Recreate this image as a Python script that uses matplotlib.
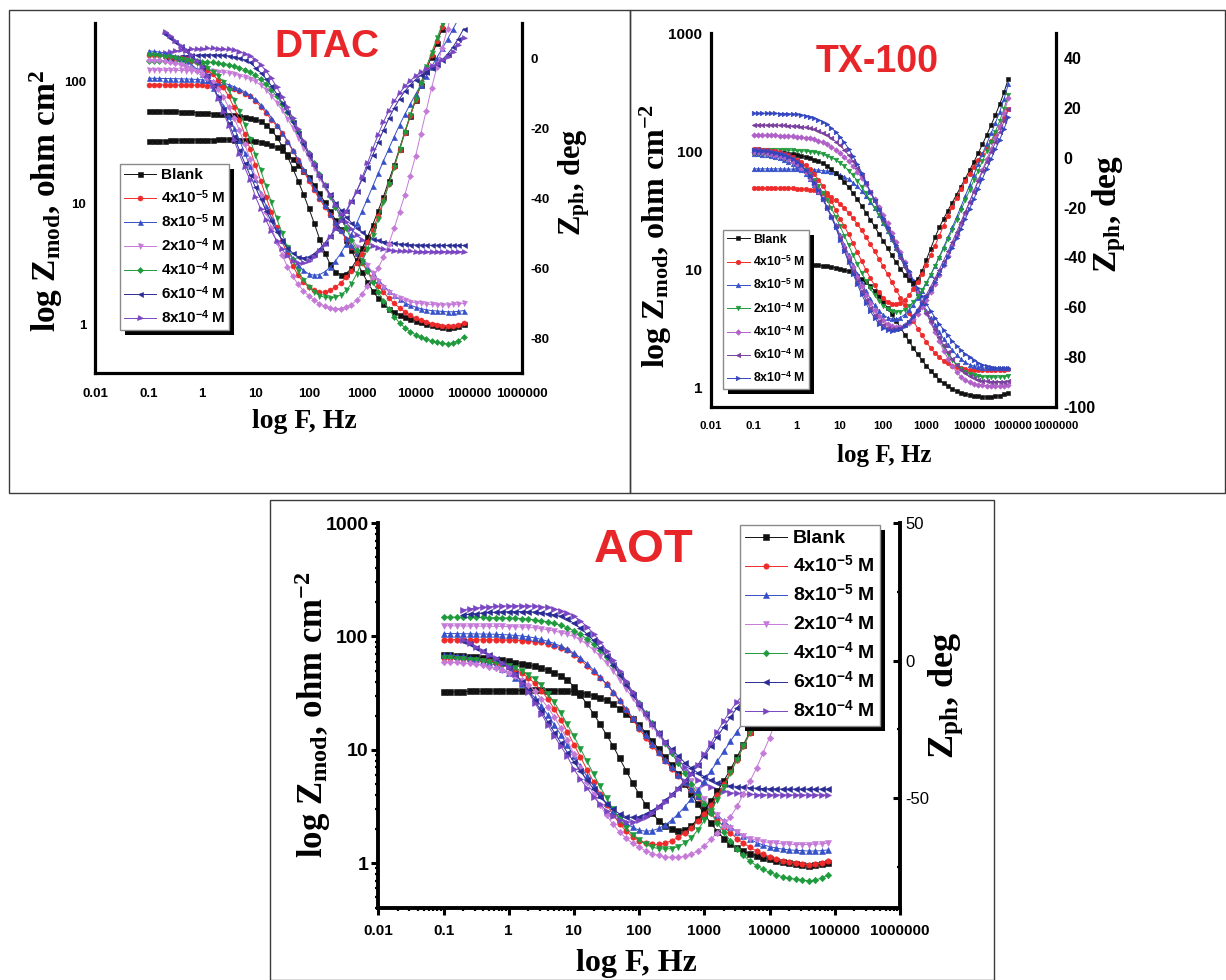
import matplotlib
matplotlib.use('Agg')
import matplotlib.pyplot as plt
from matplotlib.patches import Rectangle
from matplotlib.transforms import IdentityTransform
from matplotlib.ticker import NullLocator, MultipleLocator, LogLocator, NullFormatter

plt.rcParams['mathtext.fontset'] = 'custom'
plt.rcParams['mathtext.rm'] = 'Liberation Serif:bold'
plt.rcParams['mathtext.it'] = 'Liberation Serif:bold:italic'
plt.rcParams['mathtext.bf'] = 'Liberation Serif:bold'
plt.rcParams['mathtext.sf'] = 'Liberation Sans:bold'

nan = float('nan')

# ---------------- frequency grid (10 points per decade, 0.1 Hz .. ~80 kHz) ----------------
LOG_F = [i / 10 for i in range(-10, 50)]
FREQ = [10 ** v for v in LOG_F]

LEGEND_LABELS = ['Blank', '4x10$^{\\mathsf{-5}}$ M', '8x10$^{\\mathsf{-5}}$ M',
                 '2x10$^{\\mathsf{-4}}$ M', '4x10$^{\\mathsf{-4}}$ M',
                 '6x10$^{\\mathsf{-4}}$ M', '8x10$^{\\mathsf{-4}}$ M']
X_TICKS = [0.01, 0.1, 1, 10, 100, 1000, 10000, 100000, 1000000]
X_TICK_LABELS = ['0.01', '0.1', '1', '10', '100', '1000', '10000', '100000', '1000000']

# ---------------- DTAC / AOT data : |Z| (ohm cm2) ----------------
aot_mag_blank = [32.5, 32.3, 32.4, 32.6, 32.7, 32.8, 32.9, 33.0, 33.0, 33.1,
                 33.2, 33.3, 33.3, 33.4, 33.4, 33.4, 33.3, 33.2, 33.0, 32.7,
                 32.3, 31.8, 31.0, 30.0, 28.7, 27.3, 25.3, 23.0, 20.5, 18.5,
                 16.5, 14.2, 12.0, 10.2, 8.6, 7.3, 6.1, 5.0, 4.1, 3.3,
                 2.7, 2.25, 1.9, 1.65, 1.48, 1.36, 1.27, 1.21, 1.16, 1.12,
                 1.08, 1.05, 1.02, 1.0, 0.98, 0.96, 0.95, 0.96, 0.98, 1.01]
aot_mag_4e5 = [93.7, 93.7, 93.6, 93.6, 93.5, 93.5, 93.4, 93.3, 93.2, 93.0,
               92.8, 92.4, 91.8, 91.0, 90.0, 88.7, 86.5, 83.0, 79.5, 75.5,
               69.0, 62.0, 55.0, 48.5, 43.0, 38.0, 32.0, 27.0, 22.5, 18.5,
               15.3, 12.8, 10.8, 9.3, 8.0, 6.8, 5.9, 5.1, 4.4, 3.8,
               3.2, 2.75, 2.4, 2.1, 1.85, 1.65, 1.5, 1.38, 1.28, 1.2,
               1.14, 1.09, 1.05, 1.02, 1.0, 0.98, 0.97, 0.98, 1.0, 1.04]
aot_mag_8e5 = [106, 106, 105.8, 105.6, 105.4, 105.2, 105, 104.7, 104.3, 103.8,
               103, 102, 100.8, 99.2, 97, 94, 90.5, 86.5, 82, 77,
               71, 64.5, 57.5, 50.5, 44, 38, 32.5, 27.5, 23, 19.2,
               16, 13.4, 11.3, 9.6, 8.2, 7.0, 6.0, 5.2, 4.5, 3.9,
               3.4, 3.0, 2.65, 2.35, 2.1, 1.9, 1.75, 1.62, 1.52, 1.45,
               1.4, 1.36, 1.33, 1.31, 1.3, 1.29, 1.28, 1.28, 1.29, 1.31]
aot_mag_2e4 = [124, 124, 123.8, 123.6, 123.4, 123.2, 123, 122.8, 122.6, 122.4,
               122, 121.6, 121, 120, 118.8, 117, 114.5, 111.5, 108, 104,
               100, 93, 85, 76, 67, 58, 49.5, 41.5, 34.5, 28.5,
               23.5, 19.5, 16.2, 13.5, 11.2, 9.3, 7.7, 6.4, 5.3, 4.4,
               3.7, 3.1, 2.65, 2.3, 2.05, 1.87, 1.74, 1.65, 1.59, 1.55,
               1.52, 1.5, 1.48, 1.47, 1.46, 1.46, 1.46, 1.47, 1.48, 1.5]
aot_mag_4e4 = [148, 148, 147.8, 147.6, 147.4, 147.2, 147, 146.6, 146.2, 145.8,
               145.2, 144.4, 143.4, 142, 140, 137.5, 134, 130, 125, 119,
               112, 104, 95, 85.5, 75.5, 65.5, 56, 47, 39, 32,
               26, 21.2, 17.2, 14, 11.4, 9.3, 7.6, 6.2, 5.0, 4.1,
               3.35, 2.75, 2.25, 1.87, 1.57, 1.34, 1.17, 1.04, 0.95, 0.88,
               0.83, 0.79, 0.76, 0.74, 0.72, 0.71, 0.70, 0.71, 0.74, 0.79]
aot_mag_6e4 = [nan, nan, nan, 155, 157, 159, 161, 162.5, 163.5, 164.5,
               165, 165.5, 165.5, 165, 164, 162, 159, 155, 150, 143,
               130, 118, 105, 92, 79, 67, 56, 46, 37.5, 30.5,
               25, 20.5, 16.8, 14, 11.8, 10.1, 8.8, 7.7, 6.9, 6.25,
               5.8, 5.4, 5.12, 4.95, 4.83, 4.74, 4.67, 4.62, 4.58, 4.55,
               4.53, 4.52, 4.51, 4.5, 4.5, 4.5, 4.5, 4.5, 4.5, 4.5]
aot_mag_8e4 = [nan, nan, nan, 172, 175, 178, 180.5, 182.5, 184, 185,
               186, 186.5, 186.5, 186, 185, 183, 180, 175.5, 169, 160.5,
               150, 137, 122, 106, 90, 75, 61.5, 50, 40.5, 32.5,
               26, 21, 17, 14, 11.6, 9.7, 8.2, 7.0, 6.1, 5.45,
               5.0, 4.68, 4.46, 4.3, 4.19, 4.12, 4.07, 4.04, 4.02, 4.01,
               4.0, 4.0, 4.0, 4.0, 4.0, 4.0, 4.0, 4.0, 4.0, 4.0]

# ---------------- DTAC / AOT data : phase (deg) ----------------
aot_ph_blank = [2.0, 1.9, 1.8, 1.6, 1.4, 1.2, 1.0, 0.7, 0.4, 0.1,
                -0.3, -0.7, -1.1, -1.6, -2.1, -2.7, -3.5, -4.4, -5.5, -7.0,
                -9.5, -12.5, -15.8, -19.3, -23.0, -27.0, -31.0, -35.5, -40.0, -44.5,
                -48.5, -52.3, -55.5, -58.1, -60.0, -61.3, -61.9, -61.5, -60.0, -57.5,
                -54.3, -51.0, -47.5, -43.6, -39.5, -35.0, -30.5, -25.8, -21.0, -16.5,
                -12.0, -7.5, -3.5, 0.5, 4.5, 8.5, 12.5, 16.5, 20.5, 24.5]
dtac_ph_blank = [-15.0, -15.1, -15.0, -15.1, -15.2, -15.2, -15.3, -15.3, -15.4, -15.5,
                 -15.6, -15.7, -15.8, -15.9, -16.0, -16.1, -16.3, -16.5, -16.7, -17.0,
                 -17.4, -18.0, -19.0, -20.5, -22.5, -25.0, -28.0, -31.4, -35.0, -38.8,
                 -42.8, -47.0, -51.5, -55.5, -58.8, -61.0, -61.8, -61.5, -60.0, -57.5,
                 -54.3, -51.0, -47.5, -43.6, -39.5, -35.0, -30.5, -25.8, -21.0, -16.5,
                 -12.0, -7.5, -3.5, 0.5, 4.5, 8.5, 12.5, 16.5, 20.5, 24.5]
aot_ph_4e5 = [1.0, 0.9, 0.8, 0.6, 0.4, 0.2, 0.0, -0.3, -0.7, -1.2,
              -2.3, -3.3, -4.6, -6.2, -8.3, -10.9, -14.0, -17.6, -21.6, -25.9,
              -30.5, -35.0, -39.6, -44.0, -48.3, -52.3, -56.0, -59.3, -62.0, -64.0,
              -65.4, -66.3, -66.8, -66.8, -66.3, -65.4, -64.2, -62.6, -60.7, -58.4,
              -55.8, -52.6, -49.0, -45.0, -40.6, -36.0, -31.2, -26.3, -21.4, -16.6,
              -12.0, -7.5, -3.2, 1.0, 5.0, 9.0, 13.0, 17.0, 21.0, 25.0]
aot_ph_8e5 = [2.1, 2.0, 1.8, 1.5, 1.1, 0.6, 0.0, -0.8, -1.8, -3.0,
              -4.5, -6.3, -8.4, -10.8, -13.5, -16.5, -19.8, -23.3, -27.0, -30.8,
              -34.6, -38.4, -42.1, -45.6, -48.9, -51.9, -54.6, -57.0, -59.0, -60.6,
              -61.6, -62.0, -61.8, -61.0, -59.7, -57.9, -55.7, -53.1, -50.2, -47.0,
              -43.6, -40.1, -36.5, -32.9, -29.3, -25.8, -22.4, -19.1, -16.0, -13.1,
              -10.3, -7.6, -5.0, -2.4, 0.2, 2.8, 5.5, 8.3, 11.2, 14.2]
aot_ph_2e4 = [0.9, 0.8, 0.7, 0.5, 0.3, 0.1, -0.2, -0.5, -0.9, -1.4,
              -2.0, -2.8, -3.8, -5.1, -6.7, -9.0, -12.0, -15.2, -19.0, -23.2,
              -27.5, -32.0, -36.6, -41.2, -45.7, -50.0, -54.0, -57.6, -60.8, -63.3,
              -65.3, -66.8, -67.8, -68.3, -68.5, -68.3, -67.6, -66.3, -64.4, -61.5,
              -58.0, -54.5, -50.5, -46.0, -41.0, -36.0, -31.0, -26.0, -21.0, -16.2,
              -11.5, -7.0, -2.6, 1.6, 5.7, 9.7, 13.7, 17.7, 21.7, 25.7]
aot_ph_4e4 = [-0.4, -0.5, -0.6, -0.8, -1.0, -1.3, -1.7, -2.2, -2.8, -3.5,
              -4.4, -5.5, -6.9, -8.7, -11.0, -14.0, -17.0, -20.5, -24.5, -28.8,
              -34.0, -39.0, -44.0, -48.5, -52.5, -56.2, -59.5, -62.3, -64.6, -66.4,
              -67.9, -69.1, -70.1, -70.8, -71.3, -71.5, -71.5, -71.1, -70.4, -69.1,
              -67.3, -65.0, -62.5, -60.0, -56.8, -53.0, -48.5, -43.8, -39.0, -33.5,
              -28.0, -21.5, -15.0, -8.5, -2.5, 3.0, 8.5, 14.0, 19.0, 24.0]
aot_ph_6e4 = [nan, nan, nan, 7.0, 5.9, 4.7, 3.4, 2.0, 0.6, -0.9,
              -2.6, -4.9, -7.7, -11.0, -14.6, -18.4, -22.3, -26.2, -29.9, -33.4,
              -36.8, -40.2, -43.5, -46.6, -49.5, -52.0, -54.1, -55.7, -56.7, -57.0,
              -56.7, -55.8, -54.5, -52.8, -50.8, -48.6, -46.2, -43.6, -40.8, -37.8,
              -34.6, -31.2, -27.6, -24.0, -20.5, -17.2, -14.2, -11.6, -9.4, -7.6,
              -6.1, -4.9, -3.8, -2.8, -1.7, -0.4, 1.2, 3.2, 5.6, 8.4]
aot_ph_8e4 = [nan, nan, nan, 7.6, 6.3, 5.0, 3.6, 2.2, 0.8, -0.7,
              -2.5, -5.0, -8.0, -11.5, -15.3, -19.3, -23.4, -27.4, -31.2, -34.8,
              -39.5, -43.0, -46.3, -49.4, -52.2, -54.6, -56.5, -57.9, -58.6, -58.6,
              -58.0, -56.8, -55.2, -53.3, -51.2, -48.9, -46.5, -43.9, -41.1, -38.1,
              -34.0, -30.0, -25.8, -21.8, -18.2, -15.0, -12.3, -10.0, -8.0, -6.4,
              -5.1, -4.0, -3.1, -2.3, -1.5, -0.6, 0.5, 1.9, 3.7, 5.8]

# ---------------- TX-100 data : |Z| (ohm cm2) ----------------
tx_mag_blank = [10.9, 10.9, 10.9, 10.9, 10.9, 10.9, 10.9, 10.9, 10.9, 10.9,
                10.9, 10.9, 10.9, 10.85, 10.8, 10.8, 10.7, 10.6, 10.5, 10.35,
                10.15, 9.9, 9.6, 9.25, 8.8, 8.3, 7.75, 7.15, 6.55, 5.9,
                5.3, 4.7, 4.15, 3.65, 3.2, 2.8, 2.45, 2.15, 1.9, 1.7,
                1.52, 1.38, 1.26, 1.16, 1.08, 1.02, 0.97, 0.93, 0.9, 0.88,
                0.86, 0.85, 0.84, 0.83, 0.83, 0.83, 0.84, 0.85, 0.87, 0.89]
tx_mag_4e5 = [48.6, 48.6, 48.6, 48.6, 48.6, 48.6, 48.6, 48.5, 48.5, 48.4,
              48.3, 48.1, 47.8, 47.3, 46.6, 45.6, 44.3, 42.6, 40.6, 38.3,
              35.7, 32.9, 30.0, 27.1, 24.2, 21.4, 18.8, 16.4, 14.2, 12.3,
              10.6, 9.1, 7.8, 6.7, 5.75, 4.95, 4.25, 3.65, 3.15, 2.75,
              2.42, 2.15, 1.95, 1.8, 1.68, 1.6, 1.53, 1.48, 1.45, 1.43,
              1.41, 1.4, 1.39, 1.39, 1.39, 1.39, 1.39, 1.4, 1.41, 1.42]
tx_mag_8e5 = [71, 71, 71, 71, 71, 71, 70.9, 70.8, 70.7, 70.6,
              70.5, 70.4, 70.2, 70.0, 69.7, 69.3, 68.7, 67.9, 66.8, 65.3,
              63.3, 60.8, 57.8, 54.3, 50.4, 46.2, 41.8, 37.4, 33.0, 28.8,
              24.9, 21.3, 18.1, 15.3, 12.9, 10.8, 9.0, 7.5, 6.3, 5.3,
              4.45, 3.85, 3.35, 2.93, 2.58, 2.3, 2.07, 1.88, 1.74, 1.63,
              1.56, 1.51, 1.48, 1.46, 1.45, 1.45, 1.45, 1.45, 1.46, 1.47]
tx_mag_2e4 = [103, 103, 103, 103, 103, 102.8, 102.6, 102.4, 102.2, 101.9,
              101.5, 101.0, 100.3, 99.4, 98.2, 96.6, 94.5, 91.8, 88.5, 84.5,
              79.8, 74.5, 68.7, 62.5, 56.2, 50.0, 44.0, 38.5, 33.4, 28.8,
              24.7, 21.0, 17.8, 15.0, 12.6, 10.5, 8.8, 7.3, 6.1, 5.1,
              4.25, 3.55, 3.0, 2.55, 2.2, 1.92, 1.7, 1.54, 1.42, 1.34,
              1.29, 1.26, 1.24, 1.23, 1.22, 1.22, 1.22, 1.22, 1.23, 1.25]
tx_mag_4e4 = [137, 137, 137, 137, 137, 136.5, 136, 135.5, 135, 134,
              133, 132, 130.5, 128.5, 126, 123, 119, 114.5, 109, 103,
              96.5, 89.5, 82, 74.5, 67, 59.5, 52.5, 45.5, 39.5, 34,
              29, 24.5, 20.5, 17, 14, 11.5, 9.5, 7.8, 6.4, 5.25,
              4.3, 3.55, 2.95, 2.45, 2.05, 1.75, 1.52, 1.35, 1.23, 1.15,
              1.1, 1.07, 1.05, 1.04, 1.03, 1.02, 1.02, 1.02, 1.03, 1.05]
tx_mag_6e4 = [167, 167, 167, 167, 167, 166.5, 166, 165.5, 165, 164,
              163, 161.5, 159.5, 157, 153.5, 149, 143.5, 137, 129.5, 121,
              112, 102.5, 92.5, 82.5, 72.5, 63, 54, 45.5, 38, 31.7,
              26.3, 21.8, 18.1, 15.0, 12.5, 10.4, 8.7, 7.3, 6.1, 5.1,
              4.3, 3.65, 3.1, 2.65, 2.28, 1.98, 1.74, 1.55, 1.41, 1.31,
              1.24, 1.19, 1.16, 1.14, 1.13, 1.12, 1.12, 1.12, 1.12, 1.13]
tx_mag_8e4 = [210, 210, 210, 210, 210, 209.5, 209, 208.5, 208, 207,
              206, 204, 201, 197, 192, 186, 178, 169, 158, 146,
              133, 119, 105, 91, 78, 66, 55, 45.5, 38.5, 32.5,
              27.3, 22.9, 19.2, 16.1, 13.5, 11.4, 9.6, 8.1, 6.9, 5.9,
              5.1, 4.45, 3.9, 3.45, 3.07, 2.75, 2.48, 2.26, 2.07, 1.92,
              1.8, 1.7, 1.62, 1.56, 1.52, 1.49, 1.47, 1.46, 1.45, 1.45]

# ---------------- TX-100 data : phase (deg) ----------------
tx_ph_blank = [2.3, 2.3, 2.2, 2.2, 2.1, 2.0, 1.9, 1.8, 1.6, 1.4,
               1.1, 0.8, 0.4, -0.1, -0.7, -1.4, -2.3, -3.4, -4.7, -6.2,
               -7.9, -9.8, -11.9, -14.2, -16.7, -19.3, -22.0, -24.8, -27.6, -30.5,
               -33.4, -36.3, -39.2, -42.0, -44.6, -47.0, -49.0, -50.3, -48.8, -45.5,
               -41.0, -36.5, -32.0, -28.0, -24.5, -21.2, -18.0, -14.8, -11.6, -8.4,
               -5.1, -1.7, 1.8, 5.4, 9.2, 13.1, 17.2, 21.5, 26.3, 31.8]
tx_ph_4e5 = [3.5, 3.4, 3.3, 3.1, 2.9, 2.6, 2.2, 1.7, 1.1, 0.3,
             -0.7, -1.8, -3.1, -4.7, -6.6, -8.8, -11.3, -14.1, -17.4, -21.0,
             -24.5, -27.5, -30.8, -34.3, -37.9, -41.5, -45.0, -48.3, -51.3, -54.0,
             -56.2, -57.8, -58.6, -58.8, -58.3, -57.1, -55.2, -52.8, -49.9, -46.6,
             -43.0, -39.2, -35.3, -31.3, -27.3, -23.4, -19.6, -16.0, -12.6, -9.4,
             -6.4, -3.6, -1.0, 1.5, 4.0, 6.6, 9.4, 12.4, 15.8, 19.7]
tx_ph_8e5 = [1.5, 1.4, 1.2, 1.0, 0.7, 0.3, -0.2, -0.8, -1.5, -2.4,
             -3.5, -4.9, -6.6, -8.6, -10.9, -13.6, -16.6, -19.9, -23.4, -27.1,
             -31.0, -35.0, -39.0, -42.9, -46.7, -50.3, -53.6, -56.6, -59.2, -61.4,
             -63.1, -64.2, -64.8, -64.8, -64.2, -63.0, -61.3, -59.1, -56.5, -53.6,
             -50.4, -47.0, -43.4, -39.7, -35.9, -32.0, -28.0, -23.9, -19.7, -15.4,
             -11.1, -6.8, -2.6, 1.6, 5.7, 9.8, 14.0, 18.5, 23.6, 29.6]
tx_ph_2e4 = [2.0, 1.9, 1.8, 1.6, 1.3, 1.0, 0.6, 0.1, -0.5, -1.3,
             -2.3, -3.5, -5.0, -6.8, -8.9, -11.3, -14.0, -17.0, -20.3, -23.8,
             -27.5, -31.3, -35.2, -39.0, -42.7, -46.2, -49.5, -52.5, -55.2, -57.5,
             -59.4, -60.8, -61.7, -62.0, -61.8, -61.0, -59.7, -57.9, -55.7, -53.1,
             -50.2, -47.0, -43.6, -40.1, -36.5, -32.8, -29.0, -25.1, -21.1, -17.1,
             -13.1, -9.1, -5.2, -1.3, 2.6, 6.5, 10.5, 14.8, 19.7, 25.3]
tx_ph_4e4 = [2.5, 2.4, 2.2, 2.0, 1.7, 1.3, 0.8, 0.2, -0.6, -1.5,
             -2.7, -4.1, -5.9, -8.0, -10.5, -13.4, -16.6, -20.1, -23.8, -27.7,
             -31.7, -35.8, -39.9, -43.9, -47.8, -51.5, -55.0, -58.2, -61.0, -63.4,
             -65.3, -66.7, -67.6, -68.0, -67.9, -67.3, -66.2, -64.6, -62.6, -60.1,
             -57.2, -54.0, -50.6, -47.0, -43.2, -39.3, -35.2, -31.0, -26.7, -22.3,
             -17.9, -13.5, -9.1, -4.8, -0.6, 3.6, 8.0, 12.7, 18.0, 24.0]
tx_ph_6e4 = [3.5, 3.4, 3.2, 3.0, 2.7, 2.4, 2.0, 1.4, 0.7, -0.2,
             -1.4, -2.9, -4.8, -7.1, -9.8, -12.9, -16.3, -19.9, -23.6, -27.6,
             -32.3, -36.8, -41.2, -45.5, -49.6, -53.5, -57.1, -60.3, -63.1, -65.5,
             -67.2, -68.3, -68.9, -68.9, -68.3, -67.1, -65.4, -63.3, -60.8, -58.0,
             -55.0, -51.8, -48.4, -44.9, -41.3, -37.6, -33.8, -29.9, -25.9, -21.8,
             -17.7, -13.6, -9.5, -5.5, -1.6, 2.3, 6.2, 10.3, 14.7, 19.5]
tx_ph_8e4 = [3.0, 2.9, 2.8, 2.6, 2.4, 2.1, 1.7, 1.2, 0.5, -0.4,
             -1.6, -3.1, -5.0, -7.3, -10.0, -13.0, -16.4, -20.0, -23.8, -27.8,
             -33.0, -37.5, -42.0, -46.5, -50.8, -54.8, -58.4, -61.6, -64.4, -66.6,
             -68.2, -69.2, -69.5, -69.3, -68.6, -67.4, -65.8, -63.8, -61.5, -58.9,
             -56.1, -53.1, -49.9, -46.6, -43.2, -39.7, -36.1, -32.4, -28.6, -24.7,
             -20.7, -16.6, -12.5, -8.4, -4.4, -0.5, 3.4, 7.2, 11.6, 16.3]

# ---------------- styles ----------------
BLACK, RED, BLUE = '#111111', '#ee2a2a', '#3550c8'
PINK, GREEN, NAVY, PURPLE = '#c57ad8', '#1f9a3c', '#2b2b96', '#7a45c2'
TX_ORCHID, TX_PURPLE, TX_BLUE = '#b060c8', '#7a3f9e', '#3346c0'
MARKERS = ['s', 'o', '^', 'v', 'D', '<', '>']

A_MAG_COLORS = [BLACK, RED, BLUE, PINK, GREEN, NAVY, PURPLE]
A_PH_COLORS = [BLACK, RED, BLUE, GREEN, PINK, NAVY, PURPLE]
TX_COLORS = [BLACK, RED, BLUE, GREEN, TX_ORCHID, TX_PURPLE, TX_BLUE]

A_MAG = [aot_mag_blank, aot_mag_4e5, aot_mag_8e5, aot_mag_2e4, aot_mag_4e4, aot_mag_6e4, aot_mag_8e4]
AOT_PH = [aot_ph_blank, aot_ph_4e5, aot_ph_8e5, aot_ph_2e4, aot_ph_4e4, aot_ph_6e4, aot_ph_8e4]
DTAC_PH = [dtac_ph_blank, aot_ph_4e5, aot_ph_8e5, aot_ph_2e4, aot_ph_4e4, aot_ph_6e4, aot_ph_8e4]
TX_MAG = [tx_mag_blank, tx_mag_4e5, tx_mag_8e5, tx_mag_2e4, tx_mag_4e4, tx_mag_6e4, tx_mag_8e4]
TX_PH = [tx_ph_blank, tx_ph_4e5, tx_ph_8e5, tx_ph_2e4, tx_ph_4e4, tx_ph_6e4, tx_ph_8e4]

W, H = 1226, 980
fig = plt.figure(figsize=(W / 100, H / 100), dpi=100)
fig.patch.set_facecolor('white')


def fx(px):
    return px / W


def fy(py):
    return 1 - py / H


def frame(x0, y0, x1, y1):
    fig.add_artist(Rectangle((fx(x0), fy(y1)), (x1 - x0) / W, (y1 - y0) / H,
                             transform=fig.transFigure, fill=False, ec='#3a3a3a', lw=1.0))


frame(8.5, 10, 630, 493)
frame(630, 10, 1224.5, 493)
frame(269.5, 500, 993.5, 979.5)

SANS = 'Liberation Sans'
SERIF = 'Liberation Serif'


def make_axes(x0, y0, x1, y1, ylim, y2lim, spine_lw):
    ax = fig.add_axes([fx(x0), fy(y1), (x1 - x0) / W, (y1 - y0) / H])
    ax.set_xscale('log')
    ax.set_yscale('log')
    ax.set_xlim(0.01, 1e6)
    ax.set_ylim(*ylim)
    ax2 = ax.twinx()
    ax2.set_ylim(*y2lim)
    ax.patch.set_visible(False)
    for a in (ax, ax2):
        for s in a.spines.values():
            s.set_visible(False)
    for s in ('left', 'bottom'):
        ax.spines[s].set_visible(True)
        ax.spines[s].set_linewidth(spine_lw)
        ax.spines[s].set_color('black')
    ax2.spines['right'].set_visible(True)
    ax2.spines['right'].set_linewidth(spine_lw)
    ax2.spines['right'].set_color('black')
    return ax, ax2


def draw_curves(ax, ax2, mags, phs, mag_colors, ph_colors, ms):
    handles = []
    for vals, c, m in zip(mags, mag_colors, MARKERS):
        s = ms * (0.85 if m == 'D' else 1.0)
        h, = ax.plot(FREQ, vals, color=c, lw=0.7, marker=m, ms=s, mfc=c, mec=c, mew=0.4)
        handles.append(h)
    for vals, c, m in zip(phs, ph_colors, MARKERS):
        s = ms * (0.85 if m == 'D' else 1.0)
        ax2.plot(FREQ, vals, color=c, lw=0.7, marker=m, ms=s, mfc=c, mec=c, mew=0.4)
    return handles


def add_legend(ax2, handles, x0, y0, prop, **kw):
    leg = ax2.legend(handles, LEGEND_LABELS, loc='upper left',
                     bbox_to_anchor=(fx(x0), fy(y0)), bbox_transform=fig.transFigure,
                     borderaxespad=0, fancybox=False, framealpha=1, edgecolor='#8a8a8a',
                     numpoints=1, prop=prop, **kw)
    leg.get_frame().set_linewidth(1.0)
    leg.set_zorder(10)
    return leg


# ======================= DTAC =======================
axD, axD2 = make_axes(95.2, 23.3, 522.3, 373.3, (0.4, 300), (-90, 10), 2.3)
hD = draw_curves(axD, axD2, A_MAG, DTAC_PH, A_MAG_COLORS, A_PH_COLORS, 3.6)
tick_font = dict(fontsize=9.5, fontweight='bold', fontfamily=SANS)
axD.set_xticks(X_TICKS, X_TICK_LABELS, **tick_font)
axD.set_yticks([1, 10, 100], ['1', '10', '100'], **tick_font)
axD2.set_yticks([-80, -60, -40, -20, 0], ['-80', '-60', '-40', '-20', '0'], **tick_font)
axD.xaxis.set_minor_locator(NullLocator())
axD.yaxis.set_minor_locator(NullLocator())
axD.tick_params(axis='x', length=0, pad=10.5)
axD.tick_params(axis='y', length=0, pad=6.5)
axD2.tick_params(axis='y', length=0, pad=5.8)
legD = add_legend(axD2, hD, 119.7, 164.3, dict(family=SANS, weight='bold', size=11),
                  borderpad=0.25, handlelength=2.1, handletextpad=0.35, labelspacing=0.4)
fig.text(fx(327), fy(47), 'DTAC', color='#e8262a', fontsize=28, fontweight='bold',
         family=SANS, ha='center', va='center')
fig.text(fx(304), fy(421), 'log F, Hz', fontsize=20, fontweight='bold', family=SERIF,
         ha='center', va='center')
fig.text(fx(46), fy(201), 'log Z$_{\\mathrm{mod}}$, ohm cm$^{\\mathrm{2}}$', fontsize=24,
         fontweight='bold', family=SERIF, rotation=90, ha='center', va='center')
fig.text(fx(574), fy(182), 'Z$_{\\mathrm{ph}}$, deg', fontsize=22, fontweight='bold',
         family=SERIF, rotation=90, ha='center', va='center')

# ======================= TX-100 =======================
axT, axT2 = make_axes(710.6, 33.3, 1055.8, 406.7, (0.685, 1000), (-100, 50), 2.3)
hT = draw_curves(axT, axT2, TX_MAG, TX_PH, TX_COLORS, TX_COLORS, 3.3)
axT.set_xticks(X_TICKS, X_TICK_LABELS, fontsize=8.2, fontweight='bold', fontfamily=SANS)
axT.set_yticks([1, 10, 100, 1000], ['1', '10', '100', '1000'],
               fontsize=11, fontweight='bold', fontfamily=SANS)
axT2.set_yticks([-100, -80, -60, -40, -20, 0, 20, 40],
                ['-100', '-80', '-60', '-40', '-20', '0', '20', '40'],
                fontsize=11.5, fontweight='bold', fontfamily=SANS)
axT.xaxis.set_minor_locator(NullLocator())
axT.yaxis.set_minor_locator(NullLocator())
axT.tick_params(axis='x', length=0, pad=10.5)
axT.tick_params(axis='y', length=0, pad=6)
axT2.tick_params(axis='y', length=0, pad=5.4)
legT = add_legend(axT2, hT, 723, 230, dict(family=SANS, weight='bold', size=8.8),
                  borderpad=0.3, handlelength=1.9, handletextpad=0.25, labelspacing=0.72)
fig.text(fx(877), fy(62), 'TX-100', color='#e8262a', fontsize=27, fontweight='bold',
         family=SANS, ha='center', va='center')
fig.text(fx(884), fy(455), 'log F, Hz', fontsize=18, fontweight='bold', family=SERIF,
         ha='center', va='center')
fig.text(fx(656), fy(236), 'log Z$_{\\mathrm{mod}}$, ohm cm$^{\\mathrm{-2}}$', fontsize=23,
         fontweight='bold', family=SERIF, rotation=90, ha='center', va='center')
fig.text(fx(1109), fy(214), 'Z$_{\\mathrm{ph}}$, deg', fontsize=24, fontweight='bold',
         family=SERIF, rotation=90, ha='center', va='center')

# ======================= AOT =======================
axA, axA2 = make_axes(378.3, 523, 900, 908.3, (0.4, 1000), (-90, 50), 2.8)
hA = draw_curves(axA, axA2, A_MAG, AOT_PH, A_MAG_COLORS, A_PH_COLORS, 3.9)
axA.set_xticks(X_TICKS, X_TICK_LABELS, fontsize=11, fontweight='bold', fontfamily=SANS)
axA.set_yticks([1, 10, 100, 1000], ['1', '10', '100', '1000'], fontsize=14,
               fontweight='bold', fontfamily=SANS)
axA.xaxis.set_minor_locator(LogLocator(base=10, subs=[2, 3, 4, 5, 6, 7, 8, 9], numticks=20))
axA.yaxis.set_minor_locator(LogLocator(base=10, subs=[2, 3, 4, 5, 6, 7, 8, 9], numticks=20))
axA.xaxis.set_minor_formatter(NullFormatter())
axA.yaxis.set_minor_formatter(NullFormatter())
axA.tick_params(which='major', length=5, width=2.2, direction='out')
axA.tick_params(which='minor', length=2.5, width=1.6, direction='out')
axA.tick_params(axis='x', which='major', pad=6)
axA.tick_params(axis='y', which='major', pad=2)
axA2.yaxis.set_major_locator(MultipleLocator(50))
axA2.yaxis.set_minor_locator(MultipleLocator(25))
axA2.set_yticks([-50, 0, 50], ['-50', '0', '50'], fontsize=12, fontfamily=SANS)
axA2.tick_params(which='major', length=5, width=2.2, direction='in', pad=4)
axA2.tick_params(which='minor', length=2.5, width=1.6, direction='in')
legA = add_legend(axA2, hA, 739.7, 525, dict(family=SANS, weight='bold', size=14),
                  borderpad=0.25, handlelength=2.2, handletextpad=0.3, labelspacing=0.4)
fig.text(fx(644), fy(550), 'AOT', color='#e8262a', fontsize=34, fontweight='bold',
         family=SANS, ha='center', va='center')
fig.text(fx(636), fy(963), 'log F, Hz', fontsize=23, fontweight='bold', family=SERIF,
         ha='center', va='center')
fig.text(fx(313), fy(715), 'log Z$_{\\mathrm{mod}}$, ohm cm$^{\\mathrm{-2}}$', fontsize=25,
         fontweight='bold', family=SERIF, rotation=90, ha='center', va='center')
fig.text(fx(946), fy(695), 'Z$_{\\mathrm{ph}}$, deg', fontsize=26, fontweight='bold',
         family=SERIF, rotation=90, ha='center', va='center')

# ---------------- legend shadows ----------------
fig.canvas.draw()
for leg, a2 in ((legD, axD2), (legT, axT2), (legA, axA2)):
    bb = leg.get_window_extent()
    sh = Rectangle((bb.x0 + 5, bb.y0 - 5), bb.width, bb.height, transform=IdentityTransform(),
                   facecolor='black', edgecolor='none', zorder=9.5, clip_on=False)
    a2.add_patch(sh)

fig.savefig('out.png', dpi=100, facecolor='white')
